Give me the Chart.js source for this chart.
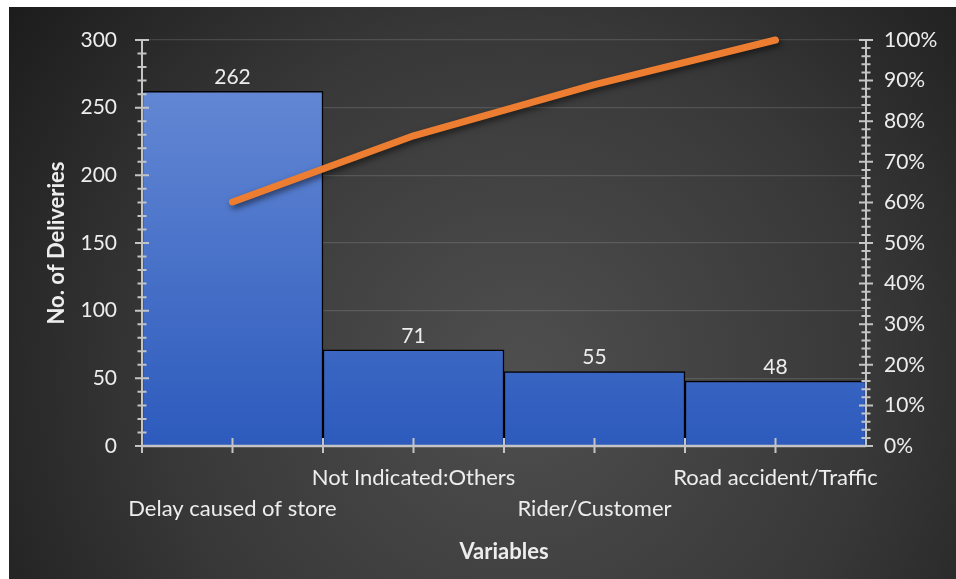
<!DOCTYPE html>
<html>
<head>
<meta charset="utf-8">
<script src="https://cdn.jsdelivr.net/npm/chart.js@4"></script>
<style>
  html, body { margin: 0; padding: 0; background: #fff; }
  #wrap { position: absolute; left: 9px; top: 7px; width: 947px; height: 572px; }
</style>
</head>
<body>
<div id="wrap"><canvas id="paretoChart"></canvas></div>
<script>
// values
const categories = [
  ['', 'Delay caused of store'],
  ['Not Indicated:Others'],
  ['', 'Rider/Customer'],
  ['Road accident/Traffic']
];
const deliveries = [262, 71, 55, 48];
const cumulativePct = [60.1, 76.4, 89.0, 100];

const FONT = 'Lato, "Open Sans", sans-serif';
const TEXT = '#ededed';
const AXIS = '#c4c4c4';

// dark radial background
const backgroundPlugin = {
  id: 'bg',
  beforeDraw(chart) {
    const { ctx, width, height } = chart;
    const g = ctx.createRadialGradient(510, 370, 0, 510, 370, 640);
    g.addColorStop(0, '#4f4f4f');
    g.addColorStop(0.55, '#383838');
    g.addColorStop(1, '#1b1b1b');
    ctx.save();
    ctx.fillStyle = g;
    ctx.fillRect(0, 0, width, height);
    ctx.restore();
  }
};

// shadow under the orange line
const lineShadow = {
  id: 'lineShadow',
  beforeDatasetDraw(chart, args) {
    if (args.meta.type !== 'line') return;
    const ctx = chart.ctx;
    ctx.save();
    ctx.shadowColor = 'rgba(0,0,0,0.55)';
    ctx.shadowBlur = 6;
    ctx.shadowOffsetX = 2;
    ctx.shadowOffsetY = 3;
  },
  afterDatasetDraw(chart, args) {
    if (args.meta.type !== 'line') return;
    chart.ctx.restore();
  }
};

// axis lines, major/minor tick marks and value labels
const axisDecor = {
  id: 'axisDecor',
  afterDatasetsDraw(chart) {
    const { ctx, chartArea: a, scales } = chart;
    const y = scales.y, y1 = scales.y1, x = scales.x;
    ctx.save();
    ctx.strokeStyle = AXIS;
    ctx.lineWidth = 2;

    const vTicks = (scale, xPos, max, minorStep, majorStep) => {
      ctx.beginPath();
      ctx.moveTo(xPos, a.top);
      ctx.lineTo(xPos, a.bottom);
      for (let v = 0; v <= max + 1e-6; v += minorStep) {
        const p = scale.getPixelForValue(v);
        const major = Math.abs(v / majorStep - Math.round(v / majorStep)) < 1e-6;
        const h = major ? 7 : 4.5;
        ctx.moveTo(xPos - h, p);
        ctx.lineTo(xPos + h, p);
      }
      ctx.stroke();
    };
    vTicks(y, a.left, 300, 10, 50);
    vTicks(y1, a.right, 100, 2, 10);

    // x axis
    const half = (x.getPixelForValue(1) - x.getPixelForValue(0)) / 2;
    ctx.beginPath();
    ctx.lineWidth = 2.5;
    ctx.moveTo(a.left, a.bottom);
    ctx.lineTo(a.right, a.bottom);
    ctx.stroke();
    ctx.lineWidth = 2;
    ctx.beginPath();
    deliveries.forEach((_, i) => {
      const c = x.getPixelForValue(i);
      [c - half, c].forEach(px => {
        ctx.moveTo(px, a.bottom - 8);
        ctx.lineTo(px, a.bottom + 7);
      });
    });
    ctx.stroke();

    // value labels above bars
    ctx.fillStyle = TEXT;
    ctx.font = '21px ' + FONT;
    ctx.textAlign = 'center';
    ctx.textBaseline = 'middle';
    chart.getDatasetMeta(1).data.forEach((bar, i) => {
      ctx.fillText(String(deliveries[i]), bar.x, bar.y - 14);
    });
    ctx.restore();
  }
};

function barFill(context) {
  const { ctx, chartArea } = context.chart;
  if (!chartArea) return '#3a66c4';
  const g = ctx.createLinearGradient(0, chartArea.top, 0, chartArea.bottom);
  g.addColorStop(0, '#6a8dd6');
  g.addColorStop(1, '#2d5bbd');
  return g;
}

// fixed axis box sizes, no extra padding from tick labels
const fixWidth = w => s => {
  s.width = w;
  s.paddingTop = 0;
  s.paddingBottom = 0;
};

const ctx = document.getElementById('paretoChart').getContext('2d');
new Chart(ctx, {
  data: {
    labels: categories,
    datasets: [{
      type: 'line',
      label: 'Cumulative %',
      data: cumulativePct,
      yAxisID: 'y1',
      borderColor: '#ed7d31',
      borderWidth: 7,
      borderCapStyle: 'round',
      borderJoinStyle: 'round',
      pointRadius: 0,
      tension: 0,
      clip: false,
      order: 0
    }, {
      type: 'bar',
      label: 'No. of Deliveries',
      data: deliveries,
      yAxisID: 'y',
      backgroundColor: barFill,
      borderColor: '#000',
      borderWidth: 1.5,
      barPercentage: 1,
      categoryPercentage: 1,
      order: 1
    }]
  },
  options: {
    responsive: true,
    maintainAspectRatio: false,
    animation: false,
    layout: { padding: { top: 33, left: 0, right: 0, bottom: 0 } },
    plugins: { legend: { display: false }, tooltip: { enabled: false } },
    scales: {
      x: {
        offset: true,
        grid: { display: false },
        border: { display: false },
        ticks: {
          color: TEXT,
          font: { family: FONT, size: 22, lineHeight: '31px' },
          padding: 8,
          maxRotation: 0,
          minRotation: 0,
          autoSkip: false
        },
        title: {
          display: true,
          text: 'Variables',
          color: TEXT,
          font: { family: FONT, size: 22, weight: 'bold' },
          padding: { bottom: 14 }
        },
        afterFit: s => { s.height = 133; }
      },
      y: {
        position: 'left',
        min: 0,
        max: 300,
        ticks: {
          stepSize: 50,
          color: TEXT,
          font: { family: FONT, size: 21 },
          padding: 25
        },
        grid: { color: 'rgba(255,255,255,0.13)', lineWidth: 1.2, drawTicks: false },
        border: { display: false },
        title: {
          display: true,
          text: 'No. of Deliveries',
          color: TEXT,
          font: { family: FONT, size: 22, weight: 'bold' },
          padding: { top: 35 }
        },
        afterFit: fixWidth(133)
      },
      y1: {
        position: 'right',
        min: 0,
        max: 100,
        ticks: {
          stepSize: 10,
          color: TEXT,
          font: { family: FONT, size: 21 },
          padding: 18,
          callback: v => v + '%'
        },
        grid: { display: false, drawTicks: false },
        border: { display: false },
        afterFit: fixWidth(90)
      }
    }
  },
  plugins: [backgroundPlugin, lineShadow, axisDecor]
});
</script>
</body>
</html>
